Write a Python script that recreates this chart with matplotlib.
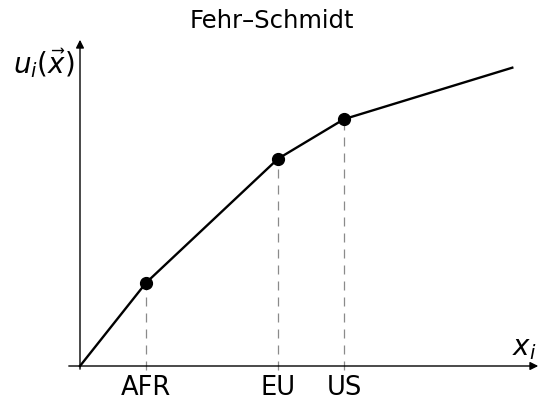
import matplotlib
matplotlib.use("Agg")
import matplotlib.pyplot as plt

categories = ["AFR", "EU", "US"]
cat_x = [1.0, 3.0, 4.0]
cat_y = [1.26, 3.14, 3.74]
line_x = [0.0, 1.0, 3.0, 4.0, 6.55]
line_y = [0.0, 1.26, 3.14, 3.74, 4.52]

plt.rcParams['mathtext.fontset'] = 'dejavusans'
fig = plt.figure(figsize=(5.44, 4.06), dpi=100)
ax = fig.add_axes([0, 0, 1, 1])
ax.set_xlim(-80/66, (544-80)/66)
ax.set_ylim((367-406)/66, 367/66)
ax.axis('off')

# axes arrows
ax.annotate('', xy=(6.985, 0), xytext=(-0.212, 0),
            arrowprops=dict(arrowstyle='-|>', color='black', lw=1.0, mutation_scale=12))
ax.annotate('', xy=(0, 4.985), xytext=(0, -0.09),
            arrowprops=dict(arrowstyle='-|>', color='black', lw=1.0, mutation_scale=12))

# dashed guides
for x, y in zip(cat_x, cat_y):
    ax.plot([x, x], [-0.06, y], color='#8a8a8a', lw=0.9, ls=(0, (7.2, 5.6)), zorder=1)

ax.plot(line_x, line_y, color='black', lw=1.7, zorder=2)
ax.plot(cat_x, cat_y, 'o', color='black', ms=8.5, zorder=3)

for x, lab in zip(cat_x, categories):
    ax.text(x, -0.32, lab, ha='center', va='center', fontsize=18.5)

ax.text(6.73, 0.29, r'$x_i$', ha='center', va='center', fontsize=20)
ax.text(-0.55, 4.6, r'$u_i(\vec{x})$', ha='center', va='center', fontsize=20)
fig.text(272/544, 1 - 21/406, 'Fehr–Schmidt', ha='center', va='center', fontsize=17.5)

fig.savefig('out.png', dpi=100)
